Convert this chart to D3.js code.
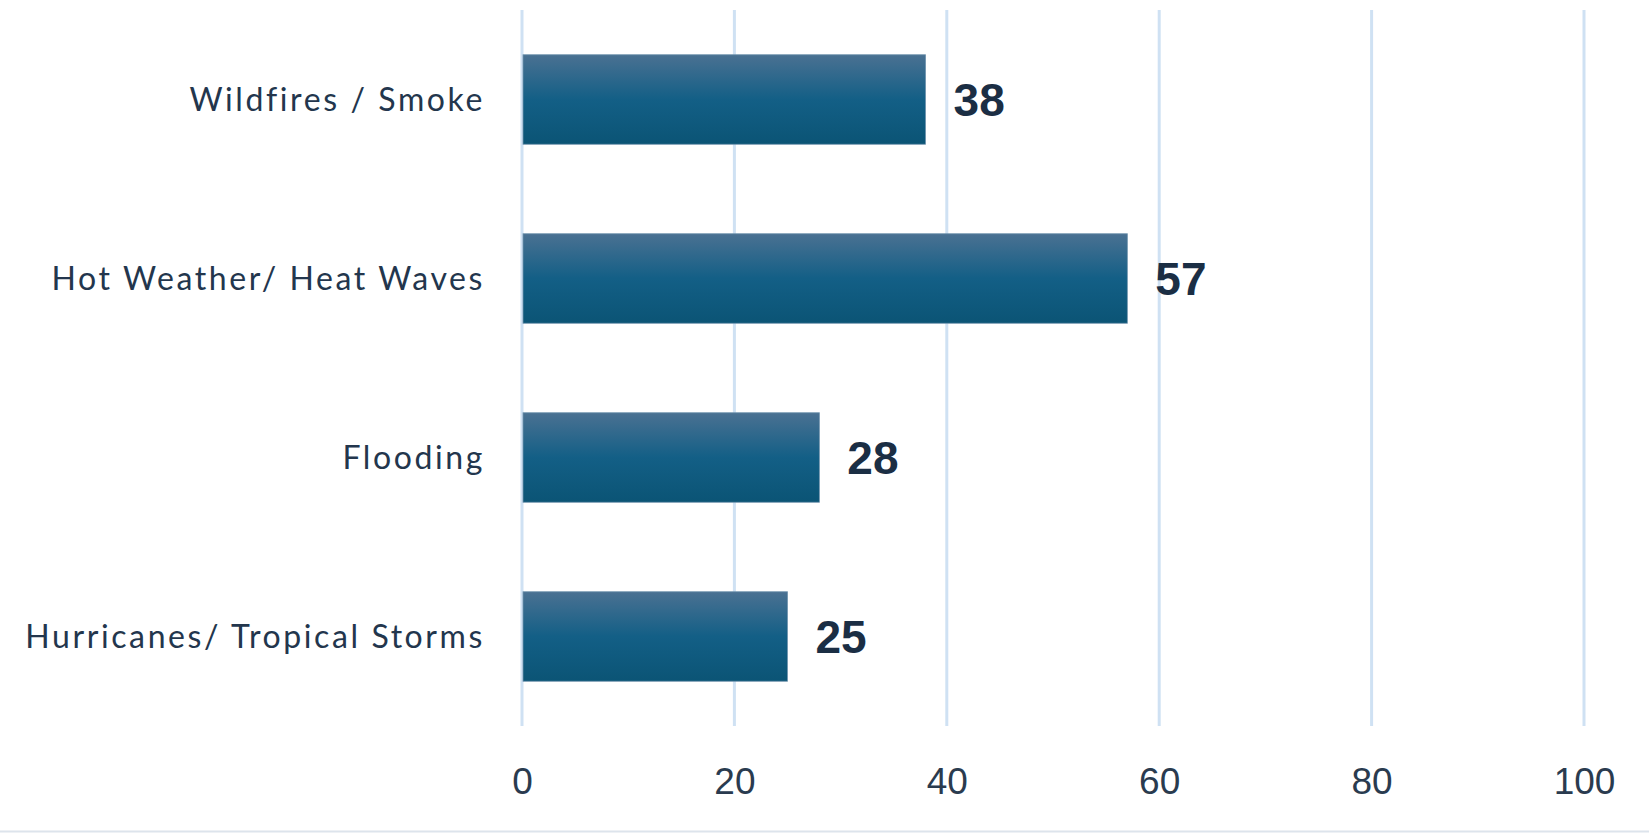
<!DOCTYPE html>
<html><head><meta charset="utf-8">
<script src="https://cdn.jsdelivr.net/npm/d3@7"></script>
<style>html,body{margin:0;padding:0;background:#fff;}svg{display:block;}</style>
</head><body>
<script>
const categories = ["Wildfires / Smoke", "Hot Weather/ Heat Waves", "Flooding", "Hurricanes/ Tropical Storms"];
const values = [38, 57, 28, 25];
const tickValues = [0, 20, 40, 60, 80, 100];

const W = 1649, H = 833;
const svg = d3.select("body").append("svg").attr("width", W).attr("height", H);

const defs = svg.append("defs");
const grad = defs.append("linearGradient").attr("id", "barGrad").attr("x1", 0).attr("y1", 0).attr("x2", 0).attr("y2", 1);
grad.append("stop").attr("offset", "0%").attr("stop-color", "#4a7192");
grad.append("stop").attr("offset", "50%").attr("stop-color", "#135f86");
grad.append("stop").attr("offset", "100%").attr("stop-color", "#0b5475");

const x = d3.scaleLinear().domain([0, 100]).range([522, 1584]);
const y = d3.scaleBand().domain(categories).range([10, 726]).paddingInner(0.5).paddingOuter(0.25);

// gridlines
svg.append("g").selectAll("line").data(tickValues).join("line")
  .attr("x1", d => x(d)).attr("x2", d => x(d))
  .attr("y1", 10).attr("y2", 726)
  .attr("stroke", "#cfe1f3").attr("stroke-width", 3);

// bars
svg.append("g").selectAll("rect").data(values).join("rect")
  .attr("x", x(0) + 1)
  .attr("y", (d, i) => y(categories[i]))
  .attr("width", d => x(d) - x(0) - 1)
  .attr("height", y.bandwidth())
  .attr("fill", "url(#barGrad)")
  .attr("stroke", "#6f93ad").attr("stroke-width", 0.8);

// value labels
svg.append("g").selectAll("text").data(values).join("text")
  .attr("x", d => x(d) + 28)
  .attr("y", (d, i) => y(categories[i]) + y.bandwidth() / 2)
  .attr("dy", "0.36em")
  .attr("font-family", "'Liberation Sans', Arial, sans-serif")
  .attr("font-weight", "bold")
  .attr("font-size", 46)
  .attr("fill", "#1b2e44")
  .text(d => d);

// category labels
svg.append("g").selectAll("text").data(categories).join("text")
  .attr("x", 485)
  .attr("y", d => y(d) + y.bandwidth() / 2)
  .attr("dy", "0.35em")
  .attr("text-anchor", "end")
  .attr("font-family", "Lato, 'Open Sans', sans-serif")
  .attr("font-size", 32)
  .attr("letter-spacing", 2.6)
  .attr("fill", "#23364d")
  .text(d => d);

// x axis tick labels
const xAxis = d3.axisBottom(x).tickValues(tickValues).tickSize(0).tickPadding(0);
const gx = svg.append("g").attr("transform", "translate(0,781)").call(xAxis);
gx.select(".domain").remove();
gx.selectAll("text")
  .attr("y", 0).attr("dy", "0.36em")
  .attr("font-family", "'Liberation Sans', Arial, sans-serif")
  .attr("font-size", 37)
  .attr("fill", "#2a3b4f");

// bottom border
svg.append("line").attr("x1", 0).attr("x2", W).attr("y1", 831.5).attr("y2", 831.5)
  .attr("stroke", "#dde4ec").attr("stroke-width", 2);
</script>
</body></html>
